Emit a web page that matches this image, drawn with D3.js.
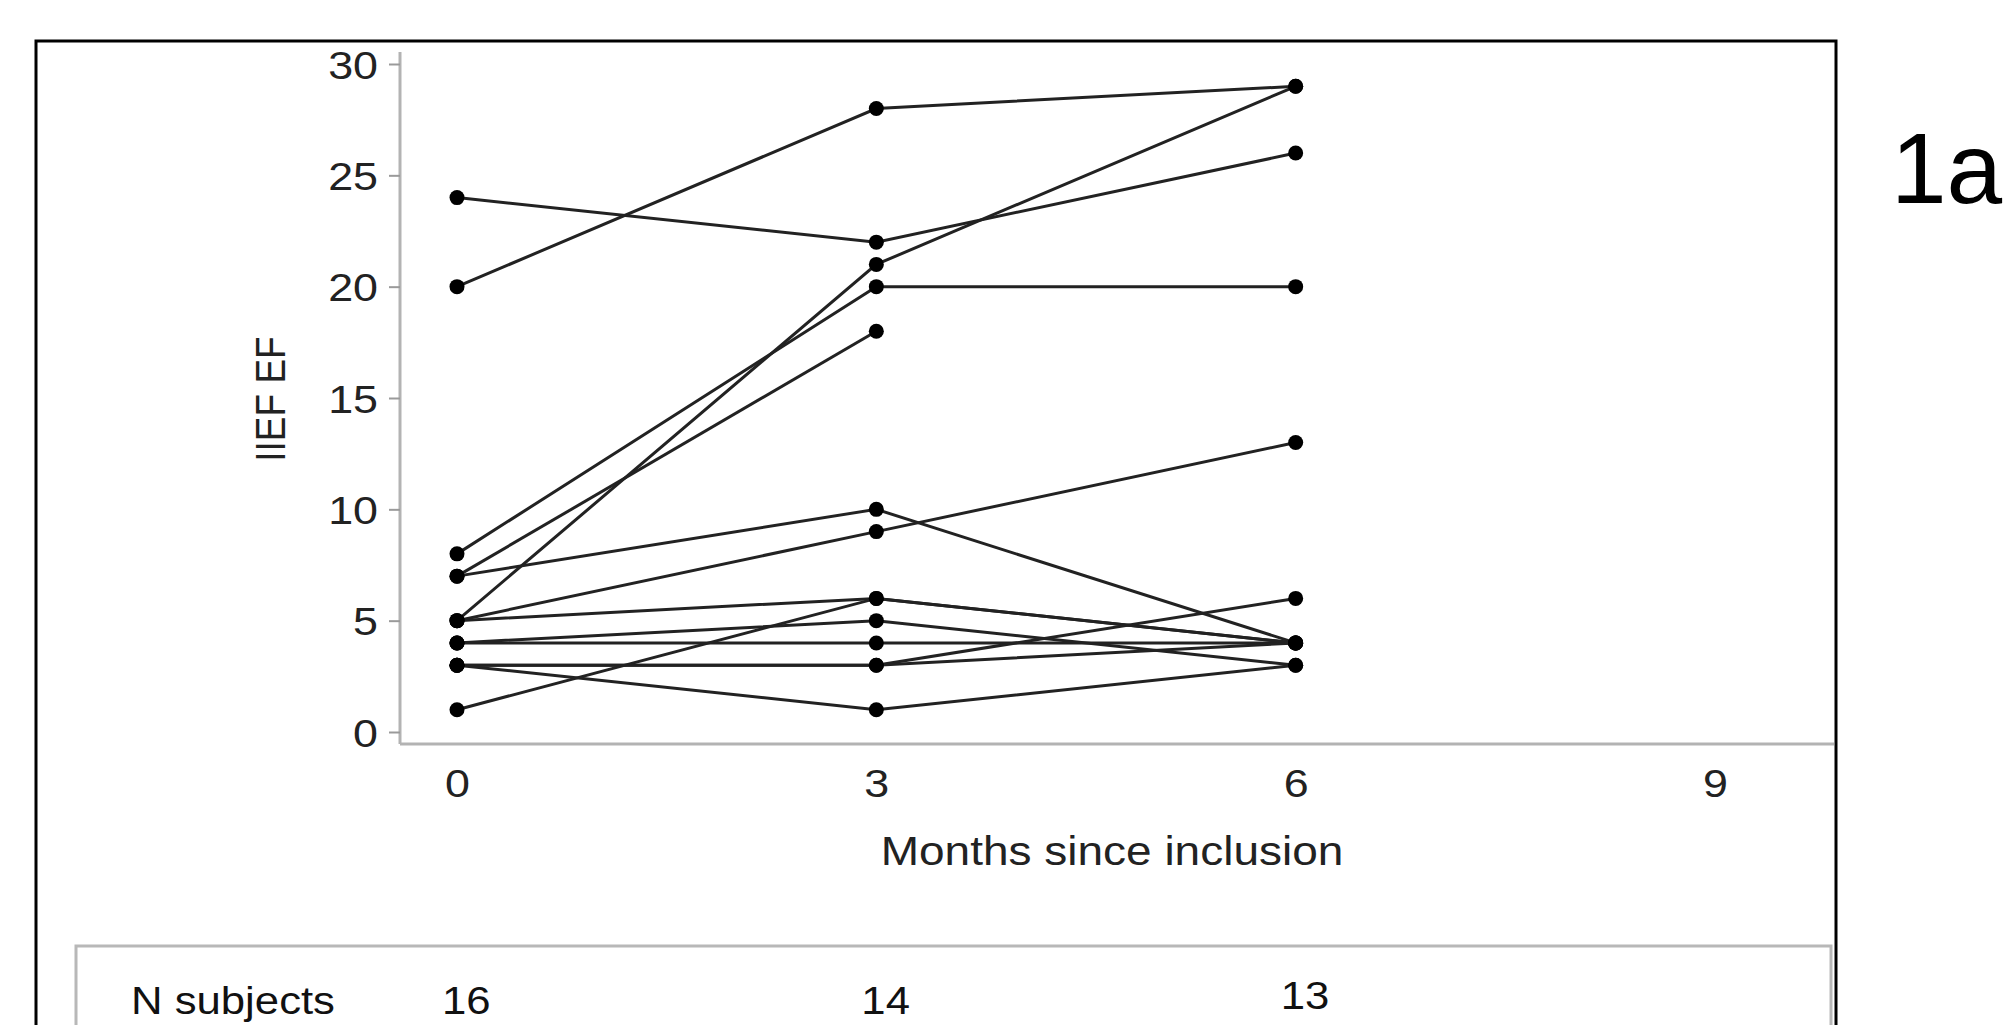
<!DOCTYPE html>
<html>
<head>
<meta charset="utf-8">
<script src="https://cdn.jsdelivr.net/npm/d3@7"></script>
<style>
  html, body { margin: 0; padding: 0; background: #fff; }
  svg { display: block; font-family: "Liberation Sans", Arial, sans-serif; }
</style>
</head>
<body>
<svg id="chart" width="2006" height="1025"></svg>
<script>
// ---------------------------------------------------------------------------
// Data: IIEF EF per subject at 0 / 3 / 6 months (null = no visit)
// ---------------------------------------------------------------------------
const months = [0, 3, 6];
const xTicks = [0, 3, 6, 9];
const yTicks = [0, 5, 10, 15, 20, 25, 30];
const nSubjects = [16, 14, 13];
const nLabel = 'N subjects';
const xTitle = 'Months since inclusion';
const yTitle = 'IIEF EF';
const panelTag = '1a';

const subjects = [
  [20, 28, 29],
  [24, 22, 26],
  [5, 21, 29],
  [8, 20, 20],
  [7, 18, null],
  [7, 10, 4],
  [5, 9, 13],
  [5, 6, 4],
  [1, 6, 4],
  [4, 5, 3],
  [4, 4, 4],
  [3, 3, 6],
  [3, 3, 4],
  [3, 1, 3],
  [4, null, null],
  [3, null, null]
];

// the source figure is a bit wider than Arial, stretch text horizontally
const SX = 1.15;

const svg = d3.select('#chart');

const x = d3.scaleLinear().domain([0, 9]).range([457, 1715]);
const y = d3.scaleLinear().domain([0, 30]).range([732, 64]);

// outer frame (bottom runs off the picture)
svg.append('rect')
  .attr('x', 36).attr('y', 41)
  .attr('width', 1800).attr('height', 1100)
  .attr('fill', 'none')
  .attr('stroke', '#000')
  .attr('stroke-width', 3);

// axis lines
svg.append('line')
  .attr('x1', 400).attr('x2', 400)
  .attr('y1', 52).attr('y2', 744)
  .attr('stroke', '#b3b3b3').attr('stroke-width', 3);
svg.append('line')
  .attr('x1', 400).attr('x2', 1834)
  .attr('y1', 744).attr('y2', 744)
  .attr('stroke', '#b3b3b3').attr('stroke-width', 3);

// y axis ticks + labels
const gy = svg.append('g')
  .attr('transform', 'translate(400,0)')
  .call(d3.axisLeft(y).tickValues(yTicks).tickSize(11).tickPadding(0));
gy.select('.domain').remove();
gy.selectAll('.tick line').attr('stroke', '#9a9a9a').attr('stroke-width', 2);
gy.selectAll('.tick text')
  .attr('x', null).attr('dy', null)
  .attr('transform', 'translate(-22,14) scale(' + SX + ',1)')
  .attr('font-size', 39)
  .attr('font-family', '"Liberation Sans", Arial, sans-serif')
  .attr('fill', '#222');

// x axis labels (no tick marks)
const gx = svg.append('g')
  .attr('transform', 'translate(0,744)')
  .call(d3.axisBottom(x).tickValues(xTicks).tickSize(0).tickPadding(0));
gx.select('.domain').remove();
gx.selectAll('.tick text')
  .attr('y', null).attr('dy', null)
  .attr('transform', 'translate(0,53) scale(' + SX + ',1)')
  .attr('font-size', 39)
  .attr('font-family', '"Liberation Sans", Arial, sans-serif')
  .attr('fill', '#222');

// axis titles
svg.append('text')
  .attr('transform', 'translate(1112,865) scale(' + SX + ',1)')
  .attr('text-anchor', 'middle')
  .attr('font-size', 40)
  .attr('fill', '#222')
  .text(xTitle);

svg.append('text')
  .attr('transform', 'translate(285,399) scale(' + SX + ',1) rotate(-90)')
  .attr('text-anchor', 'middle')
  .attr('font-size', 37)
  .attr('fill', '#222')
  .text(yTitle);

// subject trajectories
const line = d3.line()
  .defined(d => d.v != null)
  .x(d => x(d.t))
  .y(d => y(d.v));

const rows = subjects.map(s => s.map((v, i) => ({ t: months[i], v })));

svg.append('g')
  .selectAll('path')
  .data(rows)
  .join('path')
  .attr('d', line)
  .attr('fill', 'none')
  .attr('stroke', '#222')
  .attr('stroke-width', 3);

svg.append('g')
  .selectAll('circle')
  .data(rows.flat().filter(d => d.v != null))
  .join('circle')
  .attr('cx', d => x(d.t))
  .attr('cy', d => y(d.v))
  .attr('r', 7.5)
  .attr('fill', '#000');

// risk-table box with subject counts
svg.append('rect')
  .attr('x', 76).attr('y', 946)
  .attr('width', 1755).attr('height', 200)
  .attr('fill', 'none')
  .attr('stroke', '#b8b8b8')
  .attr('stroke-width', 3);

svg.append('text')
  .attr('transform', 'translate(131,1014) scale(' + SX + ',1)')
  .attr('font-size', 38)
  .attr('fill', '#111')
  .text(nLabel);

svg.append('g')
  .selectAll('text')
  .data(nSubjects)
  .join('text')
  .attr('transform', (d, i) => 'translate(' + (x(months[i]) - 15) + ',' + (i === 2 ? 1009 : 1014) + ') scale(' + SX + ',1)')
  .attr('font-size', 38)
  .attr('fill', '#111')
  .text(d => d);

// panel tag (kept just inside the right edge)
svg.append('text')
  .attr('x', 1891).attr('y', 203)
  .attr('font-size', 100)
  .attr('fill', '#000')
  .text(panelTag);
</script>
</body>
</html>
